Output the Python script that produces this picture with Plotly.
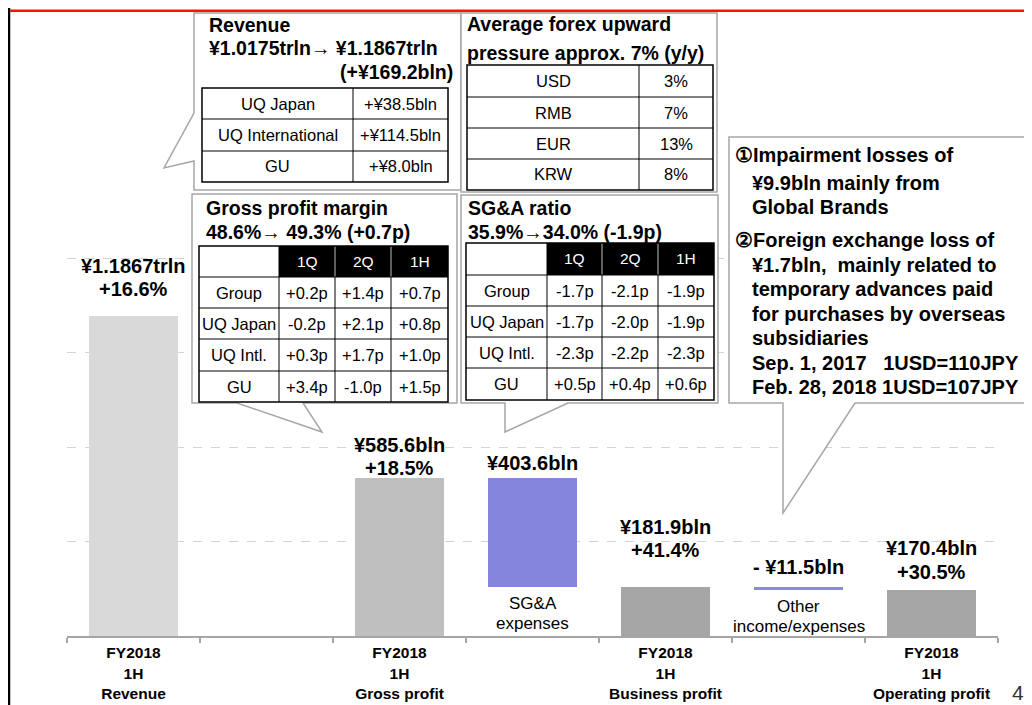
import plotly.graph_objects as go

# ---------------- data ----------------
categories = ["FY2018<br>1H<br>Revenue", " ", "FY2018<br>1H<br>Gross profit", "  ",
              "FY2018<br>1H<br>Business profit", "   ", "FY2018<br>1H<br>Operating profit"]
revenue = 1186.7
gross_profit = 585.6
sga_expenses = 403.6
business_profit = 181.9
other_income = -11.5
operating_profit = 170.4

value_labels = ["¥1.1867trln", None, "¥585.6bln", "¥403.6bln", "¥181.9bln", "- ¥11.5bln", "¥170.4bln"]
growth_labels = ["+16.6%", None, "+18.5%", None, "+41.4%", None, "+30.5%"]

rev_rows = ["UQ Japan", "UQ International", "GU"]
rev_vals = ["+¥38.5bln", "+¥114.5bln", "+¥8.0bln"]
fx_ccy = ["USD", "RMB", "EUR", "KRW"]
fx_vals = ["3%", "7%", "13%", "8%"]
period_cols = ["1Q", "2Q", "1H"]
seg_rows = ["Group", "UQ Japan", "UQ Intl.", "GU"]
gpm_vals = [["+0.2p", "+1.4p", "+0.7p"], ["-0.2p", "+2.1p", "+0.8p"],
            ["+0.3p", "+1.7p", "+1.0p"], ["+3.4p", "-1.0p", "+1.5p"]]
sga_vals = [["-1.7p", "-2.1p", "-1.9p"], ["-1.7p", "-2.0p", "-1.9p"],
            ["-2.3p", "-2.2p", "-2.3p"], ["+0.5p", "+0.4p", "+0.6p"]]
notes = [("①Impairment losses of", 0), ("¥9.9bln mainly from", 1), ("Global Brands", 1),
         ("②Foreign exchange loss of", 0), ("¥1.7bln,  mainly related to", 1),
         ("temporary advances paid", 1), ("for purchases by overseas", 1), ("subsidiaries", 1),
         ("Sep. 1, 2017   1USD=110JPY", 1), ("Feb. 28, 2018 1USD=107JPY", 1)]

# ---------------- layout helpers ----------------
# the page places the figure 8px from the window corner; coordinates below are window pixels
OFF = 8
W, H = 1032, 705
L, R, T, B = 59, 42, 0, 77
PW, PH = W - L - R, H - T - B
PX_PER_UNIT = 0.27
FONT = "Liberation Sans, Arial, sans-serif"


def X(px):
    return (px - OFF - L) / PW


def Y(py):
    return (H - B - (py - OFF)) / PH


heights = [revenue, None, gross_profit, sga_expenses, business_profit, abs(other_income), operating_profit]
bases = [0, 0, 0, gross_profit - sga_expenses, 0, business_profit + other_income, 0]
colors = ["#d9d9d9", "#ffffff", "#bfbfbf", "#8585dd", "#a6a6a6", "#8a8ae2", "#a6a6a6"]

fig = go.Figure()
fig.add_trace(go.Bar(x=categories, y=heights, base=bases, width=0.665,
                     marker=dict(color=colors, line=dict(width=0)), hoverinfo="skip"))

shapes = []
ann = []


def text(px, py, s, size, bold=False, anchor="center", color="black"):
    ann.append(dict(x=X(px), y=Y(py), xref="paper", yref="paper", text=("<b>%s</b>" % s) if bold else s,
                    showarrow=False, xanchor=anchor, yanchor="middle",
                    font=dict(family=FONT, size=size, color=color)))


def line(x0, y0, x1, y1, color="black", width=1):
    shapes.append(dict(type="line", xref="paper", yref="paper", x0=X(x0), y0=Y(y0), x1=X(x1), y1=Y(y1),
                       line=dict(color=color, width=width)))


def rect(x0, y0, x1, y1, fill=None, color="black", width=1):
    shapes.append(dict(type="rect", xref="paper", yref="paper", x0=X(x0), y0=Y(y0), x1=X(x1), y1=Y(y1),
                       fillcolor=fill if fill else "rgba(0,0,0,0)",
                       line=dict(color=color, width=width)))


def bubble(pts):
    path = "M " + " L ".join("%f,%f" % (X(a), Y(b)) for a, b in pts) + " Z"
    shapes.append(dict(type="path", xref="paper", yref="paper", path=path, fillcolor="white",
                       line=dict(color="#a6a6a6", width=1.5)))


def table(xs, ys, header_black=False):
    if header_black:
        rect(xs[1], ys[0], xs[-1], ys[1], fill="black", color="black", width=0)
    for i, xv in enumerate(xs[1:-1]):
        if header_black and i > 0:
            line(xv, ys[0], xv, ys[1], color="#bfbfbf", width=1)
            line(xv, ys[1], xv, ys[-1])
        else:
            line(xv, ys[0], xv, ys[-1])
    for yv in ys[1:-1]:
        line(xs[0], yv, xs[-1], yv)
    rect(xs[0], ys[0], xs[-1], ys[-1], color="black", width=1.5)


# frame decorations (as close to the window edge as the page allows)
line(9, 8, 9, 713, color="black", width=2.5)
rect(10, 9.5, 1032, 12, fill="#ff1010", color="#ff1010", width=0)

# revenue callout
bubble([(194, 13), (461, 13), (461, 190), (194, 190), (194, 161), (164, 168), (194, 113)])
text(207, 25, "Revenue", 19.5, True, "left")
text(207, 48, "¥1.0175trln→ ¥1.1867trln", 19.5, True, "left")
text(455, 72, "(+¥169.2bln)", 19.5, True, "right")
rx = [202, 353, 448]
ry = [88, 119, 151, 182]
table(rx, ry)
for i in range(3):
    cy = (ry[i] + ry[i + 1]) / 2
    text((rx[0] + rx[1]) / 2, cy, rev_rows[i], 16.5)
    text((rx[1] + rx[2]) / 2, cy, rev_vals[i], 16.5)

# forex callout
bubble([(461, 13), (717, 13), (717, 192), (461, 192)])
text(465, 24, "Average forex upward", 19.5, True, "left")
text(465, 53, "pressure approx. 7% (y/y)", 19.5, True, "left")
fxx = [467, 639, 713]
fxy = [65, 97, 128, 159, 190]
table(fxx, fxy)
for i in range(4):
    cy = (fxy[i] + fxy[i + 1]) / 2
    text((fxx[0] + fxx[1]) / 2, cy, fx_ccy[i], 16.5)
    text((fxx[1] + fxx[2]) / 2, cy, fx_vals[i], 16.5)

# gross profit margin callout
bubble([(192, 194), (457, 194), (457, 403), (303, 403), (322, 432), (237, 403), (192, 403)])
text(204, 208, "Gross profit margin", 19.5, True, "left")
text(204, 232, "48.6%→ 49.3% (+0.7p)", 19.5, True, "left")
gx = [199, 279, 335, 391, 448]
gy = [246, 277, 308, 339, 371, 402]
table(gx, gy, header_black=True)
for j in range(3):
    text((gx[j + 1] + gx[j + 2]) / 2, (gy[0] + gy[1]) / 2, period_cols[j], 15.5, color="white")
for i in range(4):
    cy = (gy[i + 1] + gy[i + 2]) / 2
    text((gx[0] + gx[1]) / 2, cy, seg_rows[i], 16.5)
    for j in range(3):
        text((gx[j + 1] + gx[j + 2]) / 2, cy, gpm_vals[i][j], 16.5)

# SG&A ratio callout
bubble([(461, 195), (718, 195), (718, 403), (568, 403), (505, 432), (505, 403), (461, 403)])
text(466, 208, "SG&A ratio", 19.5, True, "left")
text(466, 232, "35.9%→34.0% (-1.9p)", 19.5, True, "left")
sx = [466, 547, 602, 658, 714]
sy = [243, 275, 306, 337, 368, 400]
table(sx, sy, header_black=True)
for j in range(3):
    text((sx[j + 1] + sx[j + 2]) / 2, (sy[0] + sy[1]) / 2, period_cols[j], 15.5, color="white")
for i in range(4):
    cy = (sy[i + 1] + sy[i + 2]) / 2
    text((sx[0] + sx[1]) / 2, cy, seg_rows[i], 16.5)
    for j in range(3):
        text((sx[j + 1] + sx[j + 2]) / 2, cy, sga_vals[i][j], 16.5)

# notes callout
bubble([(729, 137), (1031, 137), (1031, 403), (855, 403), (783, 513), (783, 403), (729, 403)])
note_y = [155, 183, 207, 240, 265, 289, 314, 338, 363, 387]
for (s, indent), yy in zip(notes, note_y):
    text(733 if indent == 0 else 750, yy, s, 20, True, "left")

# bar value labels (offsets in px above bar top)
label_shift = [(50, 27), None, (33, 10), (15, None), (60, 37), (20, None), (42, 18)]
for i, cat in enumerate(categories):
    if value_labels[i] is None:
        continue
    top = bases[i] + heights[i]
    s1, s2 = label_shift[i]
    ann.append(dict(x=cat, y=top, xref="x", yref="y", text="<b>%s</b>" % value_labels[i], showarrow=False,
                    yanchor="middle", yshift=s1, font=dict(family=FONT, size=20, color="black")))
    if growth_labels[i]:
        ann.append(dict(x=cat, y=top, xref="x", yref="y", text="<b>%s</b>" % growth_labels[i],
                        showarrow=False, yanchor="middle", yshift=s2,
                        font=dict(family=FONT, size=20, color="black")))

# step names under floating bars
for cat_i, (l1, l2) in [(3, ("SG&A", "expenses")), (5, ("Other", "income/expenses"))]:
    for txt, sh in [(l1, -17), (l2, -37)]:
        ann.append(dict(x=categories[cat_i], y=bases[cat_i], xref="x", yref="y", text=txt, showarrow=False,
                        yanchor="middle", yshift=sh, font=dict(family=FONT, size=17, color="black")))

# page number
text(1018, 692, "4", 21, color="#333333")

fig.update_layout(
    width=W, height=H, margin=dict(l=L, r=R, t=T, b=B),
    paper_bgcolor="white", plot_bgcolor="white", showlegend=False, hovermode=False,
    shapes=shapes, annotations=ann, bargap=0,
    xaxis=dict(type="category", categoryorder="array", categoryarray=categories, range=[-0.5, 6.5],
               tickson="boundaries", ticks="outside", ticklen=5, tickcolor="#a6a6a6", tickwidth=1.5,
               showline=True, linecolor="#a6a6a6", linewidth=1.5, showgrid=False, zeroline=False,
               ticklabelstandoff=2,
               tickfont=dict(family=FONT, size=15.5, color="black"), fixedrange=True),
    yaxis=dict(range=[0, PH / PX_PER_UNIT], tickmode="array", tickvals=[350, 700, 1050, 1400],
               showticklabels=False, showgrid=True, gridcolor="#d4d4d4", griddash="dash", gridwidth=1,
               zeroline=False, showline=False, fixedrange=True),
)
fig.update_xaxes(tickprefix="<b>", ticksuffix="</b>")

fig.write_html("out.html")
